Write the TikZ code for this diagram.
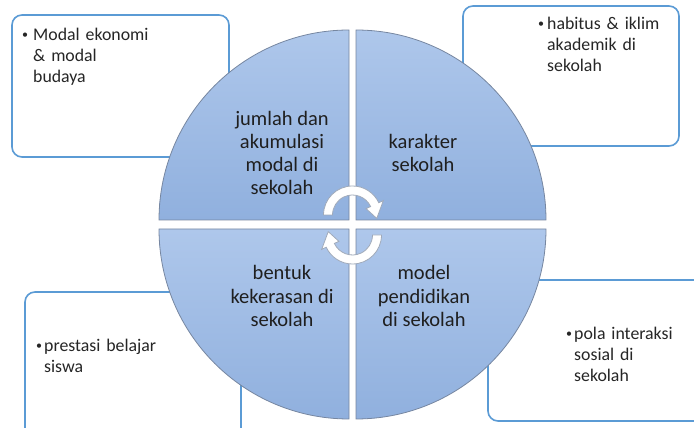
\documentclass[tikz,border=0pt]{standalone}
\usepackage{fontspec}
\setmainfont{Carlito}
\usepackage{tikz}

\definecolor{boxblue}{RGB}{91,155,213}
\definecolor{quadlight}{RGB}{174,199,235}
\definecolor{quaddark}{RGB}{144,176,222}
\definecolor{quadedge}{RGB}{118,134,160}
\definecolor{arrowedge}{RGB}{160,170,186}

\tikzset{
  infobox/.style={draw=boxblue, line width=1.6pt, rounded corners=10pt, fill=white},
  quarter/.style={top color=quadlight, bottom color=quaddark, draw=quadedge, line width=0.8pt},
  quadtext/.style={align=center, text=black!88, font=\fontsize{20.5}{23.3}\selectfont},
  itemtext/.style={anchor=base west, align=left, text width=170pt, inner sep=0pt, text=black!85, font=\fontsize{17.8}{21}\selectfont},
  itembullet/.style={anchor=base west, inner sep=0pt, text=black!85, font=\fontsize{12}{21}\selectfont},
  turnarrow/.style={fill=white, draw=arrowedge, line width=0.8pt}
}

\begin{document}
\begin{tikzpicture}[x=1pt, y=1pt]
\useasboundingbox (0, 0) rectangle (694, 428);

% boxes behind the circle
\draw[infobox] (12, 271) rectangle (229, 413);
\draw[infobox] (463, 282) rectangle (679, 422);
\draw[infobox] (25, -12) rectangle (241, 136);
\draw[infobox] (488, 7) rectangle (710, 148);

% four quarters
\shadedraw[quarter] (349, 208) -- (159, 208) arc[start angle=180, end angle=90, radius=190] -- cycle;
\shadedraw[quarter] (356, 208) -- (356, 398) arc[start angle=90, end angle=0, radius=190] -- cycle;
\shadedraw[quarter] (349, 199) -- (349, 9) arc[start angle=270, end angle=180, radius=190] -- cycle;
\shadedraw[quarter] (356, 199) -- (546, 199) arc[start angle=0, end angle=-90, radius=190] -- cycle;

% turning arrows
\begin{scope}[shift={(352.5, 213)}]
\filldraw[turnarrow] (180:29) arc[start angle=180, end angle=25, radius=29] -- (25:34) -- (-8:24.5) -- (25:15) -- (25:20) arc[start angle=25, end angle=180, radius=20] -- cycle;
\end{scope}
\begin{scope}[shift={(352.5, 193)}, rotate=180]
\filldraw[turnarrow] (180:29) arc[start angle=180, end angle=25, radius=29] -- (25:34) -- (-8:24.5) -- (25:15) -- (25:20) arc[start angle=25, end angle=180, radius=20] -- cycle;
\end{scope}

% quarter labels
\node[quadtext] (jumlah) at (282, 275) {jumlah dan\\akumulasi\\modal di\\sekolah};
\node[quadtext] (karakter) at (423, 275) {karakter\\sekolah};
\node[quadtext] (bentuk) at (282, 132) {bentuk\\kekerasan di\\sekolah};
\node[quadtext] (model) at (424, 132) {model\\pendidikan\\di sekolah};

% box items
\node[itembullet] (bModal) at (22, 389) {\textbullet};
\node[itemtext] (tModal) at (33, 387) {Modal ekonomi\\\& modal\\budaya};
\node[itembullet] (bHabitus) at (538, 400) {\textbullet};
\node[itemtext] (tHabitus) at (547, 398) {habitus \& iklim\\akademik di\\sekolah};
\node[itembullet] (bPrestasi) at (36, 78) {\textbullet};
\node[itemtext] (tPrestasi) at (44, 76) {prestasi belajar\\siswa};
\node[itembullet] (bPola) at (566, 90) {\textbullet};
\node[itemtext] (tPola) at (574, 88) {pola interaksi\\sosial di\\sekolah};
\end{tikzpicture}
\end{document}
